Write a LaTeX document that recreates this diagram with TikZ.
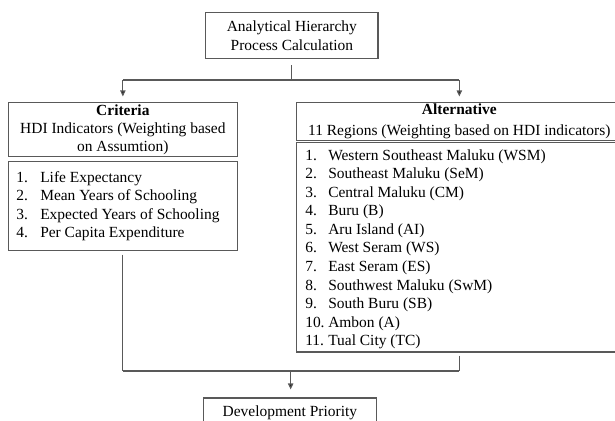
\documentclass[tikz,border=0pt]{standalone}
\usepackage{fontspec}
\setmainfont{Liberation Serif}
\usepackage{tikz}
\usetikzlibrary{arrows.meta}

\tikzset{
  box/.style={draw=black!65, line width=0.8pt, align=center, inner sep=0pt},
  item/.style={anchor=mid west, inner sep=0pt, font=\fontsize{11.6}{14}\selectfont},
  link/.style={draw=black!65, line width=0.8pt},
  arr/.style={link, -{Triangle[length=4.5pt,width=4pt,fill=black!85]}}
}

\begin{document}
\begin{tikzpicture}[x=1pt, y=-1pt]
\useasboundingbox (0,0) rectangle (461.25,315.75);

% --- Boxes ---
\node[box, font=\fontsize{11.6}{14.5}\selectfont, minimum width=129.2pt, minimum height=35pt] (ahp) at (218.9,26.7) {Analytical Hierarchy\\Process Calculation};
\node[box, font=\fontsize{11.6}{13.5}\selectfont, minimum width=171.9pt, minimum height=40.5pt] (crithead) at (92.15,97.25) {\textbf{Criteria}\\HDI Indicators (Weighting based\\on Assumtion)};
\node[box, minimum width=171.9pt, minimum height=66.7pt] (critlist) at (92.15,154.65) {};
\node[box, font=\fontsize{11.6}{15.5}\selectfont, minimum width=244pt, minimum height=28.2pt] (althead) at (344.5,91.1) {\textbf{Alternative}\\11 Regions (Weighting based on HDI indicators)};
\node[box, minimum width=244pt, minimum height=157pt] (altlist) at (344.5,185.5) {};
\node[box, font=\fontsize{11.6}{14.5}\selectfont, minimum width=130.25pt, minimum height=22.5pt] (prio) at (217.4,309.75) {Development Priority};

% --- Criteria items ---
\node[item] (crit1) at (12,134.25) {\makebox[18pt][l]{1.}Life Expectancy};
\node[item] (crit2) at (12,148.1) {\makebox[18pt][l]{2.}Mean Years of Schooling};
\node[item] (crit3) at (12,162) {\makebox[18pt][l]{3.}Expected Years of Schooling};
\node[item] (crit4) at (12,175.9) {\makebox[18pt][l]{4.}Per Capita Expenditure};

% --- Alternative items ---
\node[item] (alt1) at (228.75,117.75) {\makebox[17.25pt][l]{1.}Western Southeast Maluku (WSM)};
\node[item] (alt2) at (228.75,131.68) {\makebox[17.25pt][l]{2.}Southeast Maluku (SeM)};
\node[item] (alt3) at (228.75,145.61) {\makebox[17.25pt][l]{3.}Central Maluku (CM)};
\node[item] (alt4) at (228.75,159.54) {\makebox[17.25pt][l]{4.}Buru (B)};
\node[item] (alt5) at (228.75,173.47) {\makebox[17.25pt][l]{5.}Aru Island (AI)};
\node[item] (alt6) at (228.75,187.4) {\makebox[17.25pt][l]{6.}West Seram (WS)};
\node[item] (alt7) at (228.75,201.33) {\makebox[17.25pt][l]{7.}East Seram (ES)};
\node[item] (alt8) at (228.75,215.26) {\makebox[17.25pt][l]{8.}Southwest Maluku (SwM)};
\node[item] (alt9) at (228.75,229.19) {\makebox[17.25pt][l]{9.}South Buru (SB)};
\node[item] (alt10) at (228.75,243.12) {\makebox[17.25pt][l]{10.}Ambon (A)};
\node[item] (alt11) at (228.75,257.05) {\makebox[17.25pt][l]{11.}Tual City (TC)};

% --- Top connectors ---
\coordinate (split) at (218.9,60);
\coordinate (critTop) at (92.15,60);
\coordinate (altTop) at (344.5,60);
\draw[link] ([yshift=-4.5pt]ahp.south) -- (split);
\draw[link] (critTop) -- (altTop);
\draw[arr] (critTop) -- ([yshift=4.25pt]crithead.north);
\draw[arr] (altTop) -- ([yshift=4.25pt]althead.north);

% --- Bottom connectors ---
\coordinate (critBot) at (92.15,278.25);
\coordinate (altBot) at (344.5,278.25);
\coordinate (merge) at (218,278.25);
\draw[link] ([yshift=-2.5pt]critlist.south) -- (critBot);
\draw[link] ([yshift=-2.25pt]altlist.south) -- (altBot);
\draw[link] (critBot) -- (altBot);
\draw[arr] (merge) -- ([yshift=6pt]prio.north -| merge);
\end{tikzpicture}
\end{document}
